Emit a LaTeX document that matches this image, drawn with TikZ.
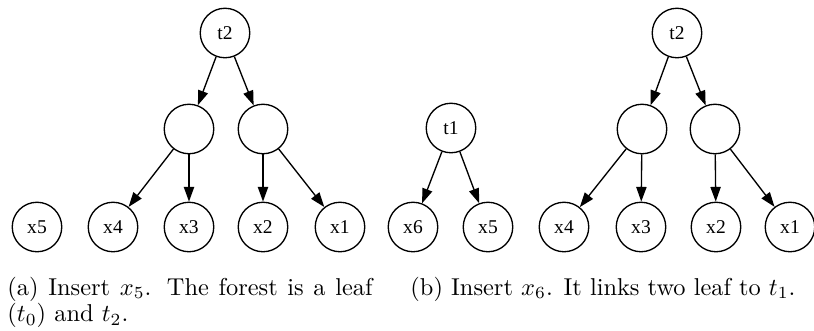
\documentclass[tikz,border=0pt]{standalone}
\usepackage{fontspec}
\newfontfamily\dotfont{Liberation Serif}
\usepackage{tikz}
\usetikzlibrary{arrows.meta}

\begin{document}
\begin{tikzpicture}[x=0.41pt, y=-0.41pt,
    vertex/.style={circle, draw=black, line width=0.55pt, minimum size=20.3pt, inner sep=0pt, font=\dotfont\fontsize{8}{9}\selectfont},
    edge/.style={-{Triangle[length=6pt, width=4.2pt]}, line width=0.55pt, black},
    caption/.style={inner sep=0pt, font=\fontsize{10}{11}\selectfont, anchor=base west}
]
\useasboundingbox (0,0) rectangle (814,330);

% (a) leaf x5 and tree t2
\node[vertex] (at2) at (225,33) {t2};
\node[vertex] (am1) at (189,129) {};
\node[vertex] (am2) at (263,129) {};
\node[vertex] (ax5) at (37,227) {x5};
\node[vertex] (ax4) at (113,227) {x4};
\node[vertex] (ax3) at (189,227) {x3};
\node[vertex] (ax2) at (263,227) {x2};
\node[vertex] (ax1) at (340,227) {x1};

\draw[edge] (at2) -- (am1);
\draw[edge] (at2) -- (am2);
\draw[edge] (am1) -- (ax4);
\draw[edge] (am1) -- (ax3);
\draw[edge] (am2) -- (ax2);
\draw[edge] (am2) -- (ax1);

% (b) tree t1 and tree t2
\node[vertex] (bt1) at (451,128) {t1};
\node[vertex] (bx6) at (413,227) {x6};
\node[vertex] (bx5) at (488,227) {x5};
\node[vertex] (bt2) at (677,33) {t2};
\node[vertex] (bm1) at (642,129) {};
\node[vertex] (bm2) at (715,129) {};
\node[vertex] (bx4) at (564,227) {x4};
\node[vertex] (bx3) at (641,227) {x3};
\node[vertex] (bx2) at (716,227) {x2};
\node[vertex] (bx1) at (790,227) {x1};

\draw[edge] (bt1) -- (bx6);
\draw[edge] (bt1) -- (bx5);
\draw[edge] (bt2) -- (bm1);
\draw[edge] (bt2) -- (bm2);
\draw[edge] (bm1) -- (bx4);
\draw[edge] (bm1) -- (bx3);
\draw[edge] (bm2) -- (bx2);
\draw[edge] (bm2) -- (bx1);

% Captions
\node[caption, text width=149.7pt, align=justify] (capa) at (7,295)
  {(a) Insert $x_5$. The forest is a leaf ($t_0$) and $t_2$.};
\node[caption] (capb) at (410,295) {(b) Insert $x_6$. It links two leaf to $t_1$.};
\end{tikzpicture}
\end{document}
